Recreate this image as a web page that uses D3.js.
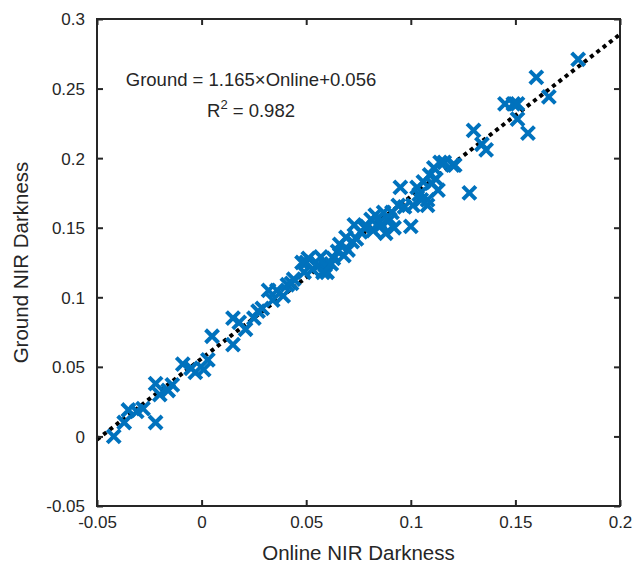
<!DOCTYPE html>
<html>
<head>
<meta charset="utf-8">
<script src="https://cdn.jsdelivr.net/npm/d3@7"></script>
<style>
  body { margin: 0; background: #fff; }
  text { font-family: "Liberation Sans", Arial, sans-serif; fill: #262626; }
</style>
</head>
<body>
<svg id="chart" width="636" height="567"></svg>
<script>
// values
var online = [-0.042, -0.037, -0.035, -0.031, -0.028, -0.022, -0.022, -0.020, -0.016, -0.014,
  -0.009, -0.005, -0.003, 0.001, 0.003, 0.005, 0.015, 0.015, 0.018, 0.021,
  0.025, 0.027, 0.029, 0.032, 0.034, 0.036, 0.039, 0.041, 0.043, 0.048,
  0.049, 0.050, 0.051, 0.053, 0.056, 0.057, 0.059, 0.060, 0.063, 0.065,
  0.066, 0.069, 0.070, 0.072, 0.073, 0.076, 0.078, 0.081, 0.082, 0.083,
  0.085, 0.087, 0.088, 0.090, 0.091, 0.094, 0.095, 0.100, 0.101, 0.103,
  0.104, 0.106, 0.108, 0.108, 0.109, 0.111, 0.113, 0.114, 0.116, 0.120,
  0.121, 0.128, 0.130, 0.134, 0.136, 0.145, 0.149, 0.151, 0.151, 0.156,
  0.160, 0.166, 0.180, 0.044, 0.062, 0.079, 0.097, 0.112,
  0.058, 0.068, 0.074, 0.086, 0.092, 0.110, 0.105];
var ground = [0.000, 0.010, 0.019, 0.018, 0.020, 0.010, 0.038, 0.030, 0.033, 0.037,
  0.052, 0.049, 0.046, 0.048, 0.055, 0.072, 0.066, 0.085, 0.082, 0.077,
  0.085, 0.090, 0.092, 0.105, 0.098, 0.105, 0.101, 0.109, 0.110, 0.125,
  0.118, 0.125, 0.128, 0.120, 0.123, 0.129, 0.123, 0.118, 0.128, 0.133,
  0.138, 0.143, 0.134, 0.140, 0.152, 0.147, 0.150, 0.156, 0.148, 0.159,
  0.154, 0.161, 0.146, 0.156, 0.161, 0.166, 0.179, 0.151, 0.166, 0.179,
  0.174, 0.183, 0.170, 0.166, 0.188, 0.193, 0.177, 0.197, 0.197, 0.195,
  0.195, 0.175, 0.220, 0.210, 0.206, 0.239, 0.239, 0.228, 0.239, 0.218,
  0.258, 0.244, 0.271, 0.113, 0.124, 0.151, 0.165, 0.185,
  0.118, 0.130, 0.142, 0.152, 0.150, 0.182, 0.170];
var xTicks = [-0.05, 0, 0.05, 0.1, 0.15, 0.2];
var yTicks = [-0.05, 0, 0.05, 0.1, 0.15, 0.2, 0.25, 0.3];
var slope = 1.165, intercept = 0.056;

var svg = d3.select("#chart");
var m = { left: 97, right: 620, top: 19, bottom: 506 };

var x = d3.scaleLinear().domain([-0.05, 0.2]).range([m.left, m.right]);
var y = d3.scaleLinear().domain([-0.05, 0.3]).range([m.bottom, m.top]);

var axisColor = "#262626";
var fmt = d => String(+d.toFixed(2));

// fit line (dotted)
svg.append("line")
  .attr("x1", x(-0.05)).attr("y1", y(slope * -0.05 + intercept))
  .attr("x2", x(0.2)).attr("y2", y(slope * 0.2 + intercept))
  .attr("stroke", "#000").attr("stroke-width", 4)
  .attr("stroke-dasharray", "4,4");

// markers
var s = 6.5;
svg.append("g").selectAll("path")
  .data(online.map((d, i) => [d, ground[i]]))
  .enter().append("path")
    .attr("d", d => {
      var cx = x(d[0]), cy = y(d[1]);
      return "M" + (cx - s) + "," + (cy - s) + "L" + (cx + s) + "," + (cy + s) +
             "M" + (cx - s) + "," + (cy + s) + "L" + (cx + s) + "," + (cy - s);
    })
    .attr("stroke", "#0072BD").attr("stroke-width", 4).attr("fill", "none");

// box
svg.append("rect")
  .attr("x", m.left).attr("y", m.top)
  .attr("width", m.right - m.left).attr("height", m.bottom - m.top)
  .attr("fill", "none").attr("stroke", axisColor).attr("stroke-width", 2);

// axes, ticks pointing inward
var gx = svg.append("g").attr("transform", "translate(0," + m.bottom + ")")
  .call(d3.axisBottom(x).tickValues(xTicks).tickSizeInner(-6).tickSizeOuter(0).tickFormat(fmt));
gx.select(".domain").remove();
gx.selectAll("line").attr("stroke", axisColor).attr("stroke-width", 2);
gx.selectAll("text").attr("dy", 0).attr("y", 22).style("font-size", "17px").attr("fill", axisColor);

var gxTop = svg.append("g").attr("transform", "translate(0," + m.top + ")")
  .call(d3.axisTop(x).tickValues(xTicks).tickSizeInner(-6).tickSizeOuter(0).tickFormat(""));
gxTop.select(".domain").remove();
gxTop.selectAll("line").attr("stroke", axisColor).attr("stroke-width", 2);

var gy = svg.append("g").attr("transform", "translate(" + m.left + ",0)")
  .call(d3.axisLeft(y).tickValues(yTicks).tickSizeInner(-6).tickSizeOuter(0).tickFormat(fmt));
gy.select(".domain").remove();
gy.selectAll("line").attr("stroke", axisColor).attr("stroke-width", 2);
gy.selectAll("text").attr("x", -12).attr("dy", "0.35em").style("font-size", "17px").attr("fill", axisColor);

var gyRight = svg.append("g").attr("transform", "translate(" + m.right + ",0)")
  .call(d3.axisRight(y).tickValues(yTicks).tickSizeInner(-6).tickSizeOuter(0).tickFormat(""));
gyRight.select(".domain").remove();
gyRight.selectAll("line").attr("stroke", axisColor).attr("stroke-width", 2);

// labels
svg.append("text").attr("x", (m.left + m.right) / 2).attr("y", 560)
  .attr("text-anchor", "middle").style("font-size", "20.5px").text("Online NIR Darkness");
svg.append("text").attr("transform", "translate(28," + (m.top + m.bottom) / 2 + ") rotate(-90)")
  .attr("text-anchor", "middle").style("font-size", "20.5px").text("Ground NIR Darkness");

// annotation
svg.append("text").attr("x", 251).attr("y", 86).attr("text-anchor", "middle")
  .style("font-size", "18.5px").text("Ground = 1.165\u00d7Online+0.056");
var r2 = svg.append("text").attr("x", 207).attr("y", 117).style("font-size", "18.5px");
r2.append("tspan").text("R");
r2.append("tspan").attr("dy", -8).style("font-size", "13px").text("2");
r2.append("tspan").attr("dy", 8).text(" = 0.982");
</script>
</body>
</html>
